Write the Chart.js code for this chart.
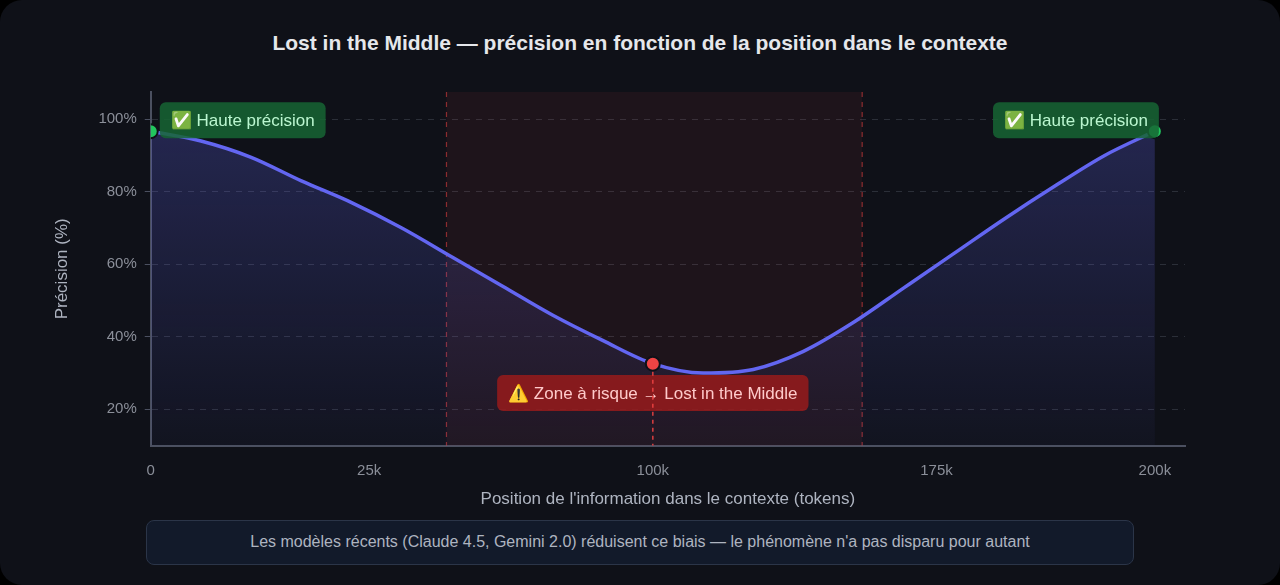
<!DOCTYPE html>
<html><head><meta charset="utf-8">
<script src="https://cdn.jsdelivr.net/npm/chart.js@4"></script>
<style>
  html, body { margin: 0; padding: 0; background: #000; }
  .card { position: absolute; left: 0; top: 0; width: 1280px; height: 585px; background: #0f1118; border-radius: 22px; overflow: hidden; font-family: "Liberation Sans", Arial, sans-serif; }
  .title { position: absolute; top: 31px; left: 0; width: 100%; text-align: center; color: #e5e7eb; font-size: 21px; font-weight: 700; }
  .wrap { position: absolute; left: 48px; top: 72px; width: 1146px; height: 442px; }
  .note { position: absolute; left: 146px; top: 520px; width: 988px; height: 45px; box-sizing: border-box; border: 1.5px solid #2b3548; border-radius: 8px; background: #121a2a; color: #aeb4c0; font-size: 16px; text-align: center; line-height: 42px; }
</style></head>
<body>
<div class="card">
  <div class="title">Lost in the Middle — précision en fonction de la position dans le contexte</div>
  <div class="wrap"><canvas id="c"></canvas></div>
  <div class="note">Les modèles récents (Claude 4.5, Gemini 2.0) réduisent ce biais — le phénomène n'a pas disparu pour autant</div>
</div>
<script>
// === Data ===
const positionsK = [0, 10, 20, 30, 40, 50, 60, 70, 80, 90, 100, 110, 120, 130, 140, 150, 160, 170, 180, 190, 200];
const precision = [96.7, 94, 89.5, 83, 77, 70, 62, 54, 46, 39, 32.6, 30, 31, 36, 44, 53.5, 63, 72.5, 81.5, 90, 96.7];
const tickValues = [0, 43.5, 100, 156.5, 200];
const tickLabels = ['0', '25k', '100k', '175k', '200k'];
const riskZone = [58.9, 141.7];
const highPoints = [{ x: 0, y: 96.7 }, { x: 200, y: 96.7 }];
const lowPoint = [{ x: 100, y: 32.6 }];
const FONT = '"Liberation Sans", Arial, sans-serif';

function roundRect(ctx, x, y, w, h, r) {
    ctx.beginPath();
    ctx.moveTo(x + r, y);
    ctx.arcTo(x + w, y, x + w, y + h, r);
    ctx.arcTo(x + w, y + h, x, y + h, r);
    ctx.arcTo(x, y + h, x, y, r);
    ctx.arcTo(x, y, x + w, y, r);
    ctx.closePath();
}

const zonePlugin = {
    id: 'zonePlugin',
    beforeDatasetsDraw(chart) {
        const { ctx, chartArea, scales: { x } } = chart;
        const x1 = x.getPixelForValue(riskZone[0]);
        const x2 = x.getPixelForValue(riskZone[1]);
        ctx.save();
        ctx.fillStyle = 'rgba(239,68,68,0.07)';
        ctx.fillRect(x1, chartArea.top, x2 - x1, chartArea.bottom - chartArea.top);
        ctx.strokeStyle = 'rgba(239,68,68,0.55)';
        ctx.setLineDash([5, 5]);
        ctx.lineWidth = 1.2;
        [x1, x2].forEach(px => {
            ctx.beginPath(); ctx.moveTo(px, chartArea.top); ctx.lineTo(px, chartArea.bottom); ctx.stroke();
        });
        ctx.restore();
    },
    afterDatasetsDraw(chart) {
        const { ctx, chartArea, scales: { x, y } } = chart;
        ctx.save();
        ctx.font = '17px ' + FONT;
        ctx.textBaseline = 'middle';
        const label = (text, cx, cy, bg, fg, align) => {
            const w = ctx.measureText(text).width + 22;
            const left = align === 'left' ? cx : align === 'right' ? cx - w : cx - w / 2;
            ctx.fillStyle = bg;
            roundRect(ctx, left, cy - 18, w, 36, 6);
            ctx.fill();
            ctx.fillStyle = fg;
            ctx.fillText(text, left + 11, cy + 1);
        };
        const yTop = y.getPixelForValue(100);
        label('✅ Haute précision', x.getPixelForValue(0) + 9, yTop + 1, 'rgba(22,101,52,0.85)', '#bbf7d0', 'left');
        label('✅ Haute précision', x.getPixelForValue(200) + 4, yTop + 1, 'rgba(22,101,52,0.85)', '#bbf7d0', 'right');
        const px = x.getPixelForValue(100);
        label('⚠️ Zone à risque → Lost in the Middle', px, y.getPixelForValue(24.5), 'rgba(153,27,27,0.85)', '#fecaca', 'center');
        ctx.strokeStyle = 'rgba(239,68,68,0.9)';
        ctx.setLineDash([4, 4]);
        ctx.lineWidth = 1.5;
        ctx.beginPath(); ctx.moveTo(px, y.getPixelForValue(32.6)); ctx.lineTo(px, chartArea.bottom); ctx.stroke();
        ctx.restore();
    }
};

const ctx = document.getElementById('c').getContext('2d');
new Chart(ctx, {
    type: 'line',
    data: {
        datasets: [
            {
                data: highPoints, showLine: false, pointRadius: 7, pointBackgroundColor: '#22c55e',
                pointBorderColor: '#0f1118', pointBorderWidth: 2, order: 0
            },
            {
                data: lowPoint, showLine: false, pointRadius: 7, pointBackgroundColor: '#ef4444',
                pointBorderColor: '#0f1118', pointBorderWidth: 2, order: 0
            },
            {
                data: positionsK.map((p, i) => ({ x: p, y: precision[i] })),
                borderColor: '#6366f1', borderWidth: 3.5, pointRadius: 0, cubicInterpolationMode: 'monotone', order: 1,
                fill: 'origin',
                backgroundColor: c => {
                    const a = c.chart.chartArea;
                    if (!a) return 'rgba(99,102,241,0.2)';
                    const g = c.chart.ctx.createLinearGradient(0, a.top, 0, a.bottom);
                    g.addColorStop(0, 'rgba(99,102,241,0.28)');
                    g.addColorStop(1, 'rgba(99,102,241,0.04)');
                    return g;
                }
            }
        ]
    },
    options: {
        responsive: true, maintainAspectRatio: false, animation: false,
        layout: { padding: { left: 0, right: 0, top: 20, bottom: 0 } },
        plugins: { legend: { display: false }, tooltip: { enabled: false } },
        scales: {
            x: {
                type: 'linear', min: 0, max: 206,
                afterBuildTicks: axis => { axis.ticks = tickValues.map(v => ({ value: v })); },
                ticks: { color: '#8b8f99', font: { size: 15, family: FONT }, padding: 8, callback: (v, i) => tickLabels[i] },
                grid: { display: false },
                border: { color: '#4b5060', width: 2 },
                title: { display: true, text: "Position de l'information dans le contexte (tokens)", color: '#aeb4c0', font: { size: 17, family: FONT }, padding: { top: 2 } }
            },
            y: {
                min: 10, max: 107.5,
                afterBuildTicks: axis => { axis.ticks = [20, 40, 60, 80, 100].map(v => ({ value: v })); },
                ticks: { color: '#8b8f99', font: { size: 15, family: FONT }, padding: 8, callback: v => v + '%' },
                grid: { color: 'rgba(120,125,140,0.28)', tickColor: '#4b5060', tickLength: 6, drawTicks: true },
                border: { color: '#4b5060', width: 2, dash: [6, 6] },
                title: { display: true, text: 'Précision (%)', color: '#aeb4c0', font: { size: 17, family: FONT }, padding: { bottom: 18 } }
            }
        }
    },
    plugins: [zonePlugin]
});
</script>
</body></html>
